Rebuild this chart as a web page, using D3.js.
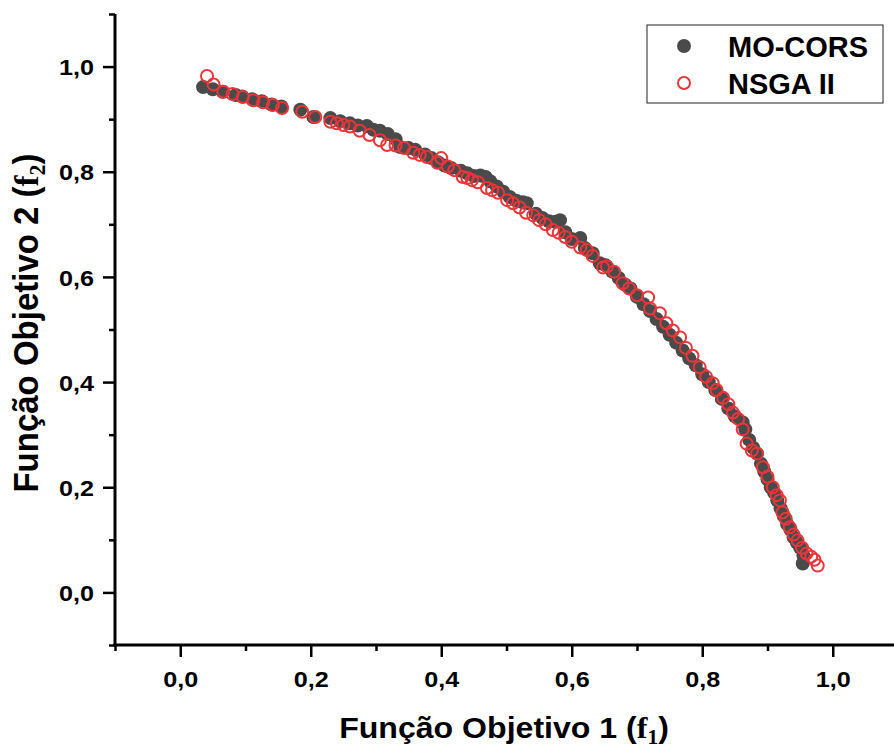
<!DOCTYPE html>
<html>
<head>
<meta charset="utf-8">
<script src="https://cdn.jsdelivr.net/npm/d3@7"></script>
<style>
  html, body { margin: 0; padding: 0; background: #fff; }
  svg { display: block; }
  text { font-family: "Liberation Sans", Arial, sans-serif; font-weight: bold; fill: #000; }
</style>
</head>
<body>
<svg id="chart" width="894" height="749"></svg>
<script>
// ---- data ----
const moCorsX = [0.035,0.05,0.065,0.085,0.095,0.11,0.125,0.14,0.155,0.184,0.204,0.23,0.245,0.26,0.272,0.286,0.296,0.306,0.318,0.33,0.337,0.35,0.36,0.375,0.385,0.395,0.405,0.415,0.43,0.44,0.45,0.46,0.468,0.475,0.485,0.495,0.505,0.515,0.525,0.531,0.545,0.555,0.565,0.575,0.582,0.59,0.6,0.613,0.62,0.632,0.643,0.652,0.662,0.672,0.682,0.69,0.7,0.71,0.72,0.73,0.74,0.75,0.76,0.77,0.78,0.79,0.8,0.81,0.82,0.83,0.84,0.85,0.862,0.866,0.872,0.878,0.884,0.89,0.895,0.9,0.905,0.91,0.915,0.92,0.925,0.93,0.935,0.94,0.945,0.95,0.955,0.954];
const moCorsY = [0.961,0.957,0.952,0.946,0.943,0.938,0.934,0.928,0.924,0.918,0.904,0.902,0.896,0.892,0.888,0.887,0.88,0.878,0.872,0.862,0.847,0.845,0.842,0.833,0.826,0.818,0.812,0.807,0.802,0.797,0.792,0.793,0.79,0.782,0.772,0.762,0.752,0.745,0.742,0.74,0.72,0.712,0.706,0.705,0.708,0.685,0.672,0.674,0.655,0.645,0.626,0.622,0.61,0.598,0.585,0.578,0.562,0.548,0.535,0.52,0.505,0.49,0.475,0.46,0.445,0.432,0.415,0.4,0.385,0.368,0.35,0.335,0.323,0.31,0.29,0.275,0.264,0.245,0.23,0.215,0.2,0.19,0.175,0.16,0.145,0.13,0.12,0.105,0.095,0.085,0.07,0.055];

const nsgaX = [0.041,0.051,0.066,0.08,0.096,0.112,0.127,0.142,0.156,0.187,0.207,0.23,0.24,0.25,0.26,0.275,0.29,0.306,0.317,0.33,0.343,0.357,0.367,0.378,0.394,0.4,0.41,0.42,0.433,0.44,0.447,0.456,0.47,0.478,0.487,0.501,0.51,0.52,0.53,0.541,0.55,0.56,0.571,0.58,0.59,0.6,0.613,0.623,0.632,0.648,0.654,0.665,0.678,0.688,0.7,0.717,0.72,0.735,0.745,0.755,0.766,0.775,0.785,0.796,0.806,0.816,0.822,0.832,0.84,0.847,0.855,0.862,0.868,0.876,0.884,0.893,0.9,0.908,0.914,0.919,0.923,0.928,0.934,0.94,0.946,0.953,0.96,0.967,0.972,0.977];
const nsgaY = [0.982,0.966,0.952,0.948,0.942,0.936,0.932,0.927,0.921,0.914,0.904,0.895,0.892,0.889,0.886,0.878,0.87,0.86,0.851,0.85,0.845,0.836,0.832,0.828,0.817,0.826,0.81,0.803,0.79,0.788,0.784,0.78,0.769,0.765,0.76,0.746,0.74,0.732,0.722,0.717,0.708,0.7,0.689,0.684,0.676,0.667,0.656,0.651,0.64,0.618,0.62,0.61,0.588,0.578,0.565,0.561,0.54,0.531,0.512,0.498,0.485,0.465,0.45,0.428,0.41,0.398,0.385,0.37,0.358,0.342,0.33,0.31,0.283,0.27,0.264,0.238,0.22,0.2,0.185,0.175,0.152,0.14,0.124,0.11,0.099,0.085,0.074,0.068,0.062,0.051];

const majorTicks = [0, 0.2, 0.4, 0.6, 0.8, 1.0];
const minorTicks = [-0.1, 0.1, 0.3, 0.5, 0.7, 0.9, 1.1];
const seriesNames = ["MO-CORS", "NSGA II"];
const seriesColors = ["#4a4a4a", "#e8363a"];

// ---- chart ----
const svg = d3.select("#chart");
const x = d3.scaleLinear().domain([-0.1, 1.1]).range([115, 898]);
const y = d3.scaleLinear().domain([-0.1, 1.1]).range([645, 14]);
const fmt = v => d3.format(".1f")(v).replace(".", ",");

// minor ticks
const gxMinor = svg.append("g").attr("transform", `translate(0,${y(-0.1)})`)
  .call(d3.axisBottom(x).tickValues(minorTicks).tickSize(6).tickFormat(""));
const gyMinor = svg.append("g").attr("transform", `translate(${x(-0.1)},0)`)
  .call(d3.axisLeft(y).tickValues(minorTicks).tickSize(6).tickFormat(""));
// major ticks
const gx = svg.append("g").attr("transform", `translate(0,${y(-0.1)})`)
  .call(d3.axisBottom(x).tickValues(majorTicks).tickSize(12).tickSizeOuter(0).tickFormat(fmt));
const gy = svg.append("g").attr("transform", `translate(${x(-0.1)},0)`)
  .call(d3.axisLeft(y).tickValues(majorTicks).tickSize(12).tickSizeOuter(0).tickFormat(fmt));

[gxMinor, gyMinor, gx, gy].forEach(g => {
  g.selectAll(".domain").remove();
  g.selectAll(".tick line").attr("stroke", "#000").attr("stroke-width", 2.5);
});
gx.selectAll(".tick text")
  .attr("font-size", 22.5).attr("y", 0).attr("dy", 0)
  .attr("transform", "translate(0,41.5) scale(1.12,1)");
gy.selectAll(".tick text")
  .attr("font-size", 22.5).attr("x", 0).attr("dy", "0.36em")
  .attr("transform", "translate(-21,0) scale(1.12,1)");

// axis lines
svg.append("line").attr("x1", x(-0.1) - 1.5).attr("x2", 894).attr("y1", y(-0.1)).attr("y2", y(-0.1))
  .attr("stroke", "#000").attr("stroke-width", 3);
svg.append("line").attr("x1", x(-0.1)).attr("x2", x(-0.1)).attr("y1", y(-0.1) + 1.5).attr("y2", y(1.1))
  .attr("stroke", "#000").attr("stroke-width", 3);

// data
const moData = moCorsX.map((v, i) => [v, moCorsY[i]]);
const nsData = nsgaX.map((v, i) => [v, nsgaY[i]]);
svg.append("g").selectAll("circle").data(moData).join("circle")
  .attr("cx", d => x(d[0])).attr("cy", d => y(d[1])).attr("r", 7)
  .attr("fill", seriesColors[0]);
svg.append("g").selectAll("circle").data(nsData).join("circle")
  .attr("cx", d => x(d[0])).attr("cy", d => y(d[1])).attr("r", 6)
  .attr("fill", "none").attr("stroke", seriesColors[1]).attr("stroke-width", 2);

// axis titles
function title(g, num, sub) {
  const t = g.append("text").attr("font-size", 30).attr("text-anchor", "middle");
  t.append("tspan").text(`Função Objetivo ${num} (`);
  t.append("tspan").attr("font-family", "'Liberation Serif', 'Times New Roman', serif").text("f");
  t.append("tspan").attr("font-family", "'Liberation Serif', 'Times New Roman', serif")
    .attr("font-size", 20).attr("dy", 6).text(sub);
  t.append("tspan").attr("dy", -6).text(")");
  return t;
}
title(svg.append("g").attr("transform", "translate(504,738) scale(1.07,1)"), 1, "1");
title(svg.append("g").attr("transform", "translate(38,323) rotate(-90) scale(1.1,1.15)"), 2, "2");

// legend
const lg = svg.append("g");
lg.append("rect").attr("x", 647).attr("y", 25).attr("width", 236).attr("height", 78)
  .attr("fill", "#fff").attr("stroke", "#222").attr("stroke-width", 1);
lg.append("circle").attr("cx", 684).attr("cy", 46).attr("r", 7).attr("fill", seriesColors[0]);
lg.append("circle").attr("cx", 684).attr("cy", 83).attr("r", 6).attr("fill", "none")
  .attr("stroke", seriesColors[1]).attr("stroke-width", 2);
lg.append("text").attr("x", 728).attr("y", 57).attr("font-size", 29).text(seriesNames[0]);
lg.append("text").attr("x", 728).attr("y", 94).attr("font-size", 29).text(seriesNames[1]);
</script>
</body>
</html>
